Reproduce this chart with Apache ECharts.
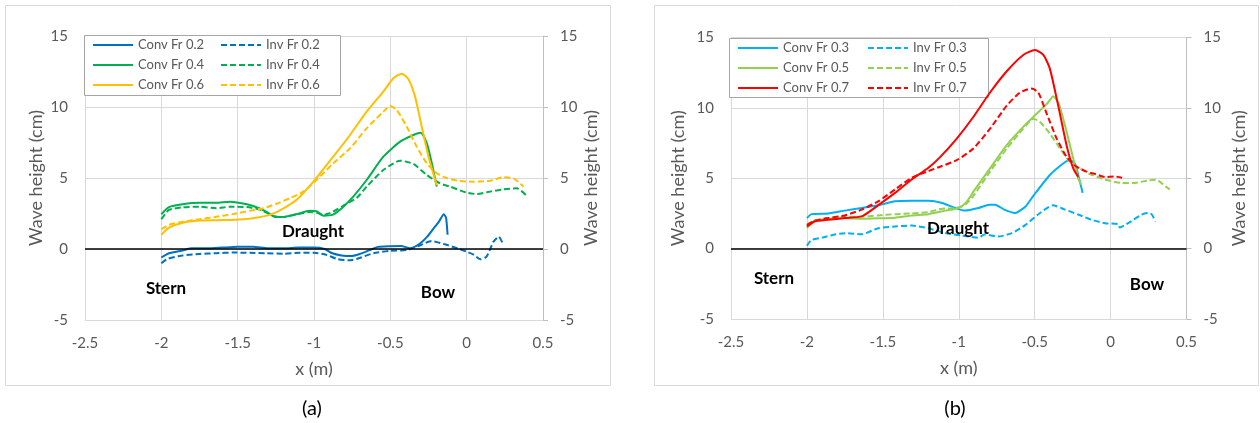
<!DOCTYPE html>
<html><head><meta charset="utf-8">
<script src="https://cdn.jsdelivr.net/npm/echarts@6.0.0/dist/echarts.min.js"></script>
<style>html,body{margin:0;padding:0;background:#fff}#c{width:1260px;height:423px}</style>
</head><body><div id="c"></div>
<script>
// ---- data (x in m, wave height in cm) ----
const conv02 = [[-2.0,-0.6],[-1.95,-0.3],[-1.86,-0.1],[-1.8,0.05],[-1.7,0.05],[-1.6,0.1],[-1.5,0.15],[-1.4,0.15],[-1.3,0.05],[-1.2,0.05],[-1.1,0.1],[-1.0,0.1],[-0.93,0.0],[-0.88,-0.3],[-0.82,-0.45],[-0.76,-0.5],[-0.7,-0.35],[-0.64,-0.1],[-0.58,0.15],[-0.5,0.2],[-0.43,0.22],[-0.37,0.05],[-0.31,0.35],[-0.26,0.85],[-0.22,1.4],[-0.18,1.95],[-0.15,2.45],[-0.135,2.2],[-0.125,1.0]];
const inv02 = [[-2.0,-1.0],[-1.96,-0.7],[-1.86,-0.45],[-1.75,-0.35],[-1.64,-0.3],[-1.53,-0.25],[-1.42,-0.27],[-1.31,-0.3],[-1.2,-0.33],[-1.09,-0.27],[-1.0,-0.27],[-0.92,-0.4],[-0.85,-0.7],[-0.77,-0.8],[-0.72,-0.7],[-0.61,-0.3],[-0.5,-0.12],[-0.39,-0.07],[-0.3,0.28],[-0.23,0.56],[-0.15,0.35],[-0.06,0.05],[0.0,-0.19],[0.045,-0.4],[0.09,-0.73],[0.13,-0.54],[0.176,0.52],[0.21,0.87],[0.24,0.3]];
const conv04 = [[-2.0,2.45],[-1.95,2.95],[-1.86,3.15],[-1.75,3.25],[-1.64,3.25],[-1.55,3.33],[-1.44,3.15],[-1.36,2.87],[-1.3,2.55],[-1.26,2.27],[-1.2,2.25],[-1.11,2.46],[-1.03,2.7],[-0.98,2.65],[-0.94,2.35],[-0.88,2.4],[-0.82,2.85],[-0.743,3.69],[-0.655,4.86],[-0.546,6.5],[-0.436,7.56],[-0.349,8.03],[-0.3,8.19],[-0.261,7.44],[-0.228,6.03],[-0.196,4.39]];
const inv04 = [[-2.0,2.1],[-1.95,2.75],[-1.86,2.94],[-1.75,2.98],[-1.64,2.87],[-1.55,2.98],[-1.44,2.95],[-1.36,2.8],[-1.3,2.5],[-1.26,2.3],[-1.2,2.25],[-1.11,2.45],[-1.03,2.6],[-0.98,2.55],[-0.94,2.4],[-0.88,2.6],[-0.8,3.1],[-0.72,3.6],[-0.655,4.39],[-0.546,5.56],[-0.436,6.22],[-0.349,5.99],[-0.261,5.21],[-0.174,4.62],[-0.108,4.39],[0.0,3.97],[0.067,3.87],[0.154,4.04],[0.241,4.2],[0.329,4.27],[0.395,3.73]];
const conv06 = [[-2.0,1.0],[-1.95,1.5],[-1.86,1.85],[-1.75,2.0],[-1.64,2.03],[-1.55,2.05],[-1.46,2.09],[-1.38,2.2],[-1.29,2.4],[-1.2,2.86],[-1.11,3.5],[-1.0,4.8],[-0.874,6.5],[-0.764,8.03],[-0.655,9.67],[-0.546,11.08],[-0.48,12.02],[-0.425,12.35],[-0.382,11.98],[-0.338,10.73],[-0.294,8.61],[-0.25,6.5],[-0.196,4.5]];
const inv06 = [[-2.0,1.4],[-1.95,1.7],[-1.86,1.92],[-1.75,2.09],[-1.64,2.27],[-1.53,2.46],[-1.42,2.7],[-1.33,2.87],[-1.25,3.17],[-1.16,3.57],[-1.07,4.04],[-0.98,4.9],[-0.874,6.03],[-0.764,7.09],[-0.655,8.5],[-0.546,9.67],[-0.502,10.07],[-0.458,9.79],[-0.392,8.61],[-0.327,7.2],[-0.261,6.03],[-0.196,5.33],[-0.13,5.0],[-0.06,4.81],[0.045,4.74],[0.154,4.81],[0.241,5.05],[0.307,4.98],[0.373,4.39]];
const conv03 = [[-2.0,2.17],[-1.97,2.45],[-1.86,2.5],[-1.75,2.7],[-1.64,2.88],[-1.53,3.08],[-1.42,3.36],[-1.31,3.4],[-1.2,3.4],[-1.11,3.24],[-1.02,2.88],[-0.96,2.7],[-0.87,2.88],[-0.8,3.12],[-0.76,3.12],[-0.7,2.77],[-0.63,2.53],[-0.56,3.0],[-0.509,3.75],[-0.4,5.23],[-0.312,6.05],[-0.268,6.3],[-0.235,6.05],[-0.202,4.75],[-0.184,3.96]];
const inv03 = [[-2.0,0.2],[-1.97,0.62],[-1.9,0.78],[-1.81,1.02],[-1.73,1.1],[-1.64,1.02],[-1.53,1.45],[-1.42,1.57],[-1.31,1.64],[-1.2,1.45],[-1.09,1.1],[-0.98,0.93],[-0.87,0.78],[-0.83,1.0],[-0.74,0.86],[-0.65,1.1],[-0.56,1.69],[-0.48,2.41],[-0.38,3.08],[-0.3,2.77],[-0.21,2.41],[-0.125,2.05],[-0.037,1.81],[0.05,1.74],[0.06,1.5],[0.116,1.81],[0.204,2.41],[0.247,2.53],[0.27,2.45],[0.296,1.93]];
const conv05 = [[-2.0,1.45],[-1.95,1.98],[-1.86,2.1],[-1.75,2.15],[-1.64,2.12],[-1.53,2.15],[-1.42,2.2],[-1.31,2.36],[-1.2,2.45],[-1.09,2.7],[-1.0,2.88],[-0.95,3.3],[-0.9,4.1],[-0.794,5.7],[-0.684,7.35],[-0.575,8.65],[-0.465,9.81],[-0.41,10.4],[-0.378,10.82],[-0.345,10.4],[-0.3,8.75],[-0.257,6.88],[-0.213,5.0],[-0.195,4.56]];
const inv05 = [[-2.0,1.57],[-1.95,1.98],[-1.86,2.17],[-1.75,2.27],[-1.64,2.27],[-1.53,2.36],[-1.42,2.45],[-1.31,2.5],[-1.2,2.6],[-1.11,2.84],[-1.02,2.88],[-0.96,3.1],[-0.904,3.75],[-0.794,5.47],[-0.684,7.11],[-0.575,8.52],[-0.509,9.23],[-0.465,9.0],[-0.4,8.17],[-0.333,7.11],[-0.268,6.17],[-0.202,5.7],[-0.136,5.3],[-0.05,4.95],[0.072,4.67],[0.159,4.67],[0.247,4.84],[0.303,4.89],[0.346,4.56],[0.39,4.2]];
const conv07 = [[-2.0,1.57],[-1.95,1.93],[-1.86,2.05],[-1.75,2.17],[-1.64,2.29],[-1.57,2.77],[-1.51,3.24],[-1.42,3.96],[-1.31,4.91],[-1.2,5.74],[-1.123,6.5],[-1.013,7.82],[-0.904,9.35],[-0.794,11.09],[-0.684,12.6],[-0.575,13.76],[-0.498,14.11],[-0.443,13.76],[-0.4,12.79],[-0.345,10.16],[-0.29,7.35],[-0.246,5.7],[-0.213,5.1]];
const inv07 = [[-2.0,1.69],[-1.95,1.98],[-1.86,2.17],[-1.75,2.36],[-1.64,2.77],[-1.53,3.36],[-1.42,4.2],[-1.31,5.03],[-1.2,5.51],[-1.123,5.82],[-1.013,6.29],[-0.904,7.11],[-0.794,8.52],[-0.684,10.16],[-0.597,11.09],[-0.52,11.37],[-0.476,11.09],[-0.421,9.59],[-0.355,7.82],[-0.29,6.53],[-0.224,5.82],[-0.158,5.47],[-0.1,5.3],[-0.037,5.08],[0.028,5.13],[0.076,5.03]];

const namesA = ['Conv Fr 0.2','Inv Fr 0.2','Conv Fr 0.4','Inv Fr 0.4','Conv Fr 0.6','Inv Fr 0.6'];
const namesB = ['Conv Fr 0.3','Inv Fr 0.3','Conv Fr 0.5','Inv Fr 0.5','Conv Fr 0.7','Inv Fr 0.7'];
const dataA = [conv02, inv02, conv04, inv04, conv06, inv06];
const dataB = [conv03, inv03, conv05, inv05, conv07, inv07];
const colorsA = ['#0070C0','#0070C0','#00B050','#00B050','#FFC000','#FFC000'];
const colorsB = ['#00B0F0','#00B0F0','#92D050','#92D050','#FF0000','#FF0000'];
const xRange = {min:-2.5, max:0.5, interval:0.5};
const yRange = {min:-5, max:15, interval:5};
const axisTitleX = 'x (m)';
const axisTitleY = 'Wave height (cm)';

const FONT = 'Lato, "Open Sans", sans-serif';
const GREY = '#595959';
const GRID = '#d9d9d9';
const ICON_SOLID = 'path://M0,0h40v2h-40z';
const ICON_DASH = 'path://M0,0h6v2h-6zM9,0h6v2h-6zM18,0h6v2h-6zM27,0h6v2h-6zM36,0h4v2h-4z';

function xAx(g){
  return {gridIndex:g, type:'value', min:xRange.min, max:xRange.max, interval:xRange.interval,
    axisLine:{show:false,onZero:false}, axisTick:{show:false},
    splitLine:{show:true,lineStyle:{color:GRID,width:1}},
    axisLabel:{color:GREY,fontSize:15,fontFamily:FONT,margin:16},
    name:axisTitleX, nameLocation:'middle', nameGap:40,
    nameTextStyle:{color:GREY,fontSize:18,fontFamily:FONT}};
}
function yAx(g, pos, gap){
  const right = pos==='right';
  return {gridIndex:g, type:'value', position:pos, min:yRange.min, max:yRange.max, interval:yRange.interval,
    axisLine:{show:right,lineStyle:{color:'#bfbfbf',width:1}},
    axisTick:{show:right,length:5,lineStyle:{color:'#bfbfbf'}},
    splitLine:{show:!right,lineStyle:{color:GRID,width:1}},
    axisLabel:{color:GREY,fontSize:15,fontFamily:FONT,margin:17},
    name:axisTitleY, nameLocation:'middle', nameRotate:90, nameGap:gap,
    nameTextStyle:{color:GREY,fontSize:18,fontFamily:FONT}};
}
function mkSeries(names, datas, colors, gi){
  return names.map((n,i)=>{
    const s = {name:n, type:'line', xAxisIndex:gi, yAxisIndex:gi*2, data:datas[i],
      symbol:'none', showSymbol:false, smooth:0.2, animation:false,
      lineStyle:{color:colors[i], width:2, type:(i%2===1)?[6,3]:'solid'},
      itemStyle:{color:colors[i]}};
    if(i===0){
      s.markLine = {silent:true, symbol:'none', animation:false, label:{show:false},
        lineStyle:{color:'#000',width:1.5,type:'solid'}, data:[{yAxis:0}]};
    }
    return s;
  });
}
function legendCol(names, dashed, left, top){
  return {left:left, top:top, orient:'vertical', itemWidth:40, itemHeight:2, itemGap:6, padding:0, z:4,
    selectedMode:false,
    data:names.map(n=>({name:n, icon: dashed?ICON_DASH:ICON_SOLID})),
    itemStyle:{borderWidth:0},
    lineStyle:{width:0, opacity:0},
    textStyle:{color:GREY,fontSize:13,fontFamily:FONT,lineHeight:14}};
}
function txt(x,y,t,size,bold,color){
  return {type:'text', x:x, y:y, z:5, style:{text:t, fill:color||'#000', font:(bold?'bold ':'')+size+'px '+FONT, textAlign:'center', textVerticalAlign:'middle'}};
}

const chart = echarts.init(document.getElementById('c'), null, {renderer:'canvas'});
chart.setOption({
  animation:false,
  backgroundColor:'#fff',
  grid:[
    {left:85, top:36, width:458, height:284},
    {left:731, top:37.5, width:455.5, height:281.5}
  ],
  xAxis:[xAx(0), xAx(1)],
  yAxis:[yAx(0,'left',40), yAx(0,'right',39), yAx(1,'left',44), yAx(1,'right',44)],
  legend:[
    legendCol([namesA[0],namesA[2],namesA[4]], false, 93, 38),
    legendCol([namesA[1],namesA[3],namesA[5]], true, 221, 38),
    legendCol([namesB[0],namesB[2],namesB[4]], false, 738, 41),
    legendCol([namesB[1],namesB[3],namesB[5]], true, 868, 41)
  ],
  graphic:[
    {type:'rect', shape:{x:5.5,y:5.5,width:605,height:380}, style:{fill:'none',stroke:GRID,lineWidth:1}, z:1, silent:true},
    {type:'rect', shape:{x:654.5,y:5.5,width:604,height:380}, style:{fill:'none',stroke:GRID,lineWidth:1}, z:1, silent:true},
    {type:'rect', shape:{x:84.5,y:35.5,width:256,height:60}, style:{fill:'#fff',stroke:'#a6a6a6',lineWidth:1}, z:3, silent:true},
    {type:'rect', shape:{x:729.5,y:38.5,width:259,height:59}, style:{fill:'#fff',stroke:'#a6a6a6',lineWidth:1}, z:3, silent:true},
    txt(166,289,'Stern',17,true),
    txt(438,293,'Bow',17,true),
    txt(313,232,'Draught',17,true),
    txt(774,279,'Stern',17,true),
    txt(1147,285,'Bow',17,true),
    txt(958,229,'Draught',17,true),
    txt(312,409,'(a)',20,false,'#000'),
    txt(955,409,'(b)',20,false,'#000')
  ],
  series:[].concat(mkSeries(namesA,dataA,colorsA,0), mkSeries(namesB,dataB,colorsB,1))
});
</script>
</body></html>
